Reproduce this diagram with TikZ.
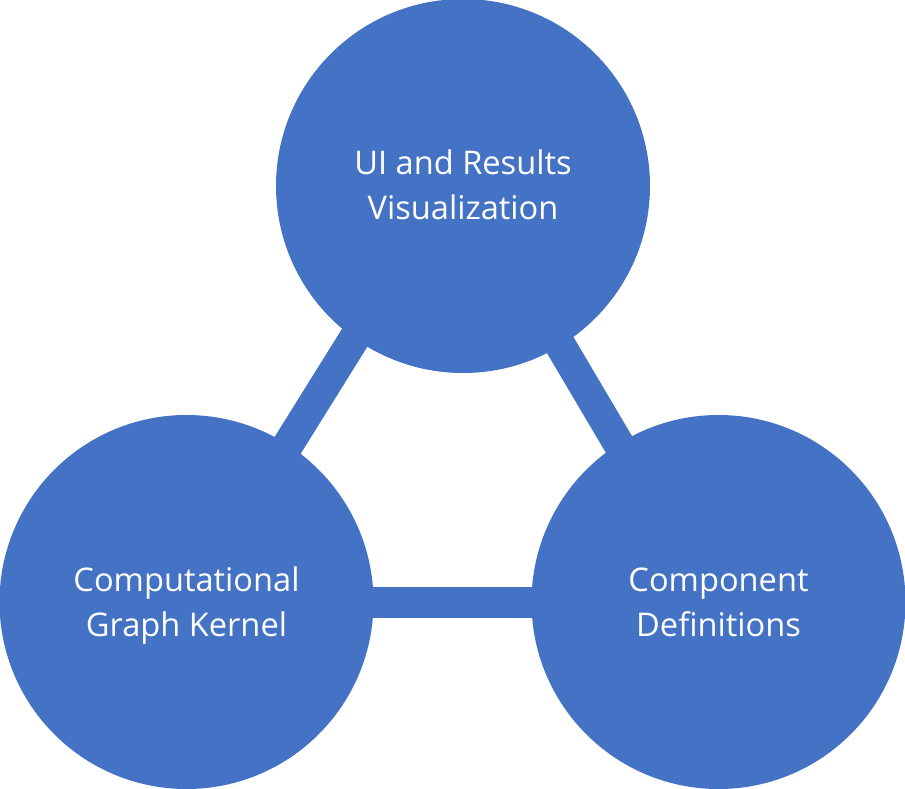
\documentclass[tikz,border=0pt]{standalone}
\usepackage{fontspec}
\setmainfont{Open Sans}
\usetikzlibrary{backgrounds}
\definecolor{officeblue}{HTML}{4472C4}
\newcommand{\blobtext}[2]{\raisebox{-2.5pt}[\height][\depth]{\begin{tabular}{@{}c@{}}#1\\#2\end{tabular}}}
\begin{document}
\begin{tikzpicture}[x=1pt,y=-1pt,
  blob/.style={circle, fill=officeblue, draw=none, minimum size=374pt, inner sep=0pt,
    text=white, font=\fontsize{32.6pt}{45pt}\selectfont},
  bar/.style={draw=officeblue, line width=31pt}]
\useasboundingbox (0,0) rectangle (905,789);
\node[blob] (top) at (463,186) {\blobtext{UI and Results}{Visualization}};
\node[blob] (left) at (186.5,602) {\blobtext{Computational}{Graph Kernel}};
\node[blob] (right) at (718.5,602) {\blobtext{Component}{Definitions}};
\begin{scope}[on background layer]
  \draw[bar] ([shift={(-5,-14)}]top.center) -- ([shift={(3.5,0)}]left.center);
  \draw[bar] ([shift={(-5,-14)}]top.center) -- ([shift={(-6.5,0)}]right.center);
  \draw[bar] (left.center) -- (right.center);
\end{scope}
\end{tikzpicture}
\end{document}
